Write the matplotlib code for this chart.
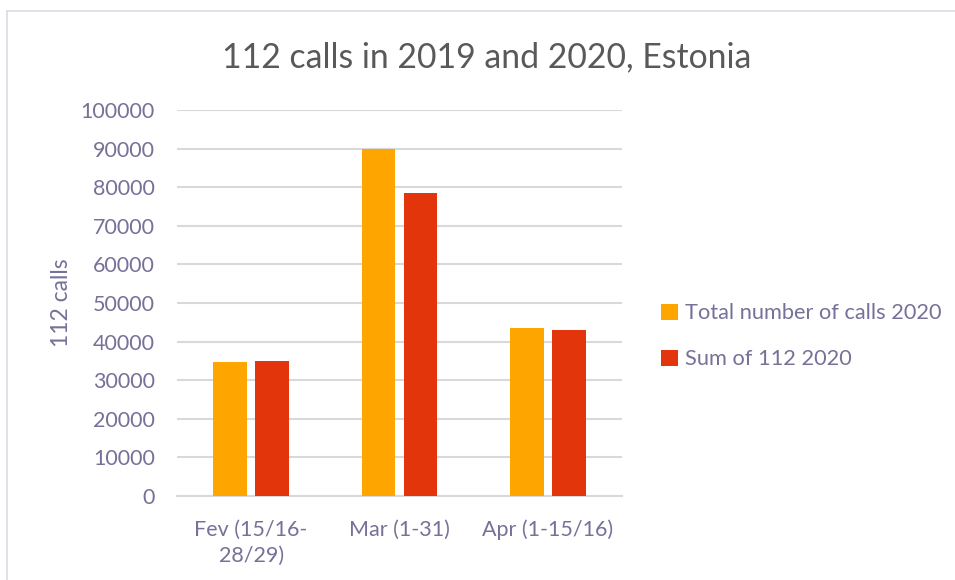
import matplotlib
matplotlib.use("Agg")
import matplotlib.pyplot as plt
from matplotlib.lines import Line2D
import numpy as np

categories = ["Fev (15/16-\n28/29)", "Mar (1-31)", "Apr (1-15/16)"]
total_calls_2020 = [34700, 89900, 43400]
sum_112_2020 = [35000, 78400, 42900]
series_names = ["Total number of calls 2020", "Sum of 112 2020"]
yticks = list(range(0, 100001, 10000))

plt.rcParams['font.family'] = ['Lato', 'DejaVu Sans']
txt = "#757198"
grid = "#d9d9d9"

fig = plt.figure(figsize=(9.55, 5.8), dpi=100)
ax = fig.add_axes([0.1853, 0.1448, 0.466, 0.6655])

x = np.arange(len(categories))
w = 0.226
off = 0.142
b1 = ax.bar(x - off, total_calls_2020, w, color="#FFA500", label=series_names[0], zorder=3)
b2 = ax.bar(x + off, sum_112_2020, w, color="#E3350C", label=series_names[1], zorder=3)

ax.set_xlim(-0.5, 2.5)
ax.set_ylim(0, 100000)
ax.set_yticks(yticks)
ax.set_yticklabels([str(t) for t in yticks])
ax.set_xticks(x)
ax.set_xticklabels(categories, linespacing=1.4)
ax.tick_params(axis='both', length=0, colors=txt, labelsize=15.5)
ax.tick_params(axis='y', pad=16)
ax.tick_params(axis='x', pad=17)
ax.grid(axis='y', color=grid, linewidth=1.5, zorder=0)
for s in ["top", "right", "left"]:
    ax.spines[s].set_visible(False)
ax.spines["bottom"].set_color(grid)
ax.spines["bottom"].set_linewidth(1.5)

ax.set_ylabel("112 calls", color=txt, fontsize=16.5, labelpad=6)

fig.text(0.51, 0.902, "112 calls in 2019 and 2020, Estonia", ha="center", va="center",
         fontsize=24.3, color="#595959")

leg = fig.legend(handles=[b1, b2], loc="center left", bbox_to_anchor=(0.672, 0.42),
                 frameon=False, fontsize=15.7, labelcolor=txt, handlelength=0.75,
                 handleheight=0.75, handletextpad=0.35, labelspacing=1.2)

# outer frame lines
fig.add_artist(Line2D([7/955, 7/955], [0, 1 - 11/580], color="#dcdce6", linewidth=1.2))
fig.add_artist(Line2D([7/955, 1], [1 - 11/580, 1 - 11/580], color="#dcdce6", linewidth=1.2))

fig.savefig("out.png", dpi=100, facecolor="white")
